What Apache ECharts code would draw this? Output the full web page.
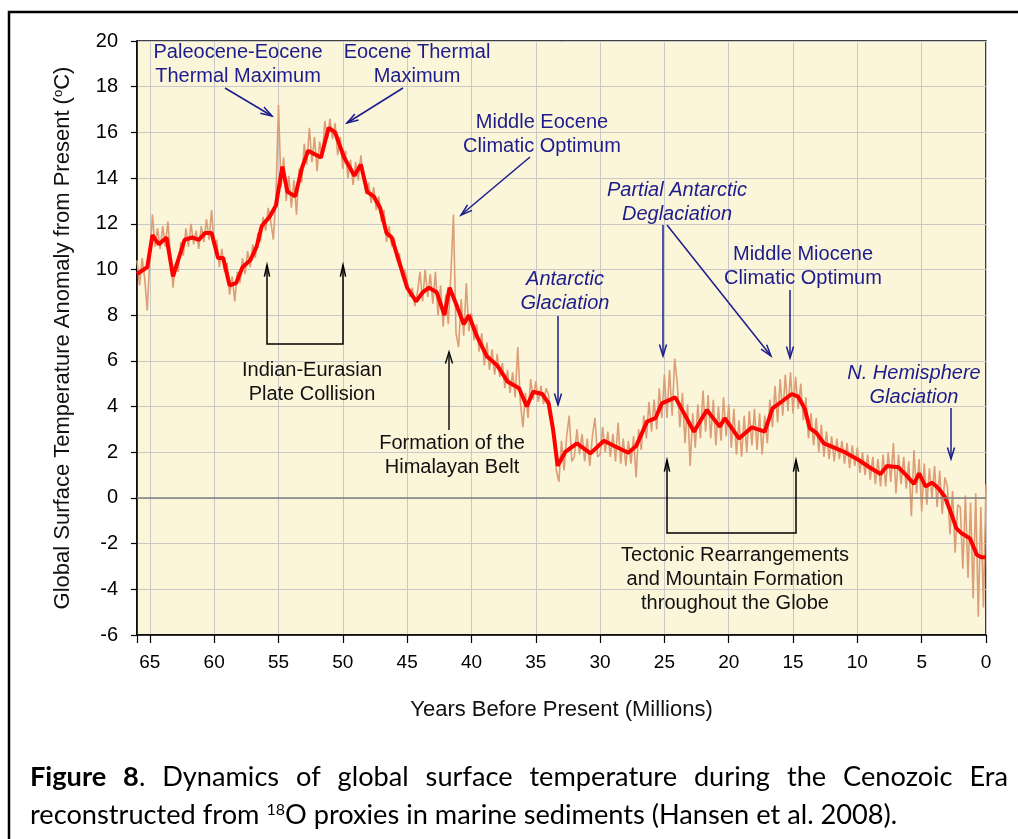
<!DOCTYPE html>
<html lang="en">
<head>
    <meta charset="UTF-8">
    <title>Cenozoic temperature</title>
    <script src="https://cdn.jsdelivr.net/npm/echarts@6.0.0/dist/echarts.min.js"></script>
</head>
<body style="margin:0;background:#fff;">
    <div id="main" style="position:absolute;left:0;top:0;width:1018px;height:839px"></div>
    <script>
        // smoothed curve (red)
        var redAge = [66, 65.2, 64.8, 64.3, 63.7, 63.2, 62.3, 61.7, 61.2, 60.7, 60.2, 59.7, 59.3, 58.8, 58.3, 57.8, 57.2, 56.7, 56.3, 55.7,
            55.2, 54.7, 54.3, 53.7, 53.2, 52.7, 51.7, 51.1, 50.6, 49.9, 49.1, 48.6, 48.1, 47.6, 47.1, 46.6, 46.2, 45.6, 45.0, 44.3,
            43.8, 43.3, 42.7, 42.1, 41.7, 41.2, 40.6, 40.2, 39.6, 38.8, 38.0, 37.2, 36.3, 35.7, 35.2, 34.5, 34.0, 33.65, 33.3, 32.7,
            31.8, 30.75, 29.7, 28.9, 27.8, 27.2, 26.35, 25.7, 25.2, 24.15, 22.7, 21.7, 20.7, 20.3, 19.2, 18.2, 17.2, 16.6, 15.9, 15.1,
            14.6, 14.1, 13.7, 13.2, 12.6, 11.85, 10.9, 9.9, 9.0, 8.2, 7.7, 6.8, 6.2, 5.6, 5.2, 4.7, 4.2, 3.7, 3.2, 2.8,
            2.3, 1.9, 1.25, 0.7, 0.33, 0];
        var redTemp = [9.8, 10.1, 11.5, 11.1, 11.4, 9.7, 11.3, 11.4, 11.3, 11.6, 11.6, 10.5, 10.5, 9.3, 9.4, 10.1, 10.4, 11.0, 11.9, 12.3,
            12.8, 14.5, 13.4, 13.2, 14.4, 15.2, 14.9, 16.2, 16.0, 14.9, 14.1, 14.6, 13.4, 13.2, 12.7, 11.6, 11.4, 10.3, 9.2, 8.6,
            9.0, 9.2, 9.0, 8.0, 9.2, 8.5, 7.6, 8.0, 7.1, 6.2, 5.8, 5.1, 4.8, 4.0, 4.65, 4.55, 4.14, 2.97, 1.41, 2.02,
            2.39, 1.95, 2.5, 2.27, 1.98, 2.27, 3.34, 3.49, 4.14, 4.4, 2.9, 3.85, 3.12, 3.49, 2.6, 3.09, 2.9, 3.92, 4.21, 4.55,
            4.43, 3.92, 3.05, 2.86, 2.39, 2.21, 1.98, 1.66, 1.32, 1.05, 1.4, 1.34, 1.0, 0.61, 1.08, 0.5, 0.67, 0.42, 0.05, -0.53,
            -1.33, -1.55, -1.77, -2.5, -2.6, -2.6];

        // high resolution record (brown), one value every 0.2 Myr from 66 to 0
        var noiseStep = 0.2;
        var noiseTemp = [
            10.4, 9.3, 10.5, 9.6, 8.2,
            10.6, 12.4, 11.0, 11.8, 10.9,
            11.9, 11.0, 12.1, 10.6, 9.2,
            10.3, 9.9, 11.2, 10.6, 11.8,
            11.0, 12.0, 11.1, 11.7, 10.9,
            11.9, 11.2, 12.2, 11.3, 12.6,
            11.0, 11.3, 10.1, 10.9, 9.9,
            10.3, 8.9, 9.7, 8.6, 9.9,
            9.4, 10.5, 9.8, 10.8, 10.1,
            11.1, 10.5, 11.6, 11.2, 12.3,
            11.7, 12.7, 12.1, 11.3, 13.2,
            17.2, 13.6, 14.9, 13.0, 14.1,
            12.7, 13.9, 12.4, 14.4, 13.8,
            15.5, 14.6, 16.2, 14.7, 15.8,
            14.3, 15.6, 14.9, 16.5, 15.7,
            16.6, 15.7, 16.4, 15.0, 15.8,
            14.4, 15.2, 14.0, 14.8, 13.7,
            14.7, 13.9, 15.0, 14.1, 13.3,
            13.8, 12.9, 13.6, 12.6, 13.2,
            12.1, 12.6, 11.2, 11.9, 11.0,
            11.4, 10.4, 10.7, 9.7, 10.0,
            9.5, 8.8, 9.2, 8.4, 9.0,
            9.9, 8.6, 10.0, 8.8, 9.8,
            8.5, 9.9, 8.0, 9.3, 7.5,
            8.9, 7.6, 9.8, 12.4, 7.2,
            6.6, 8.7, 7.1, 9.4, 7.3,
            8.1, 6.9, 7.6, 6.4, 7.2,
            5.8, 6.8, 5.6, 6.5, 5.4,
            6.3, 5.3, 5.9, 4.8, 5.6,
            4.6, 5.5, 4.4, 6.6, 4.2,
            3.1, 4.6, 3.5, 5.2, 4.3,
            5.1, 4.2, 4.9, 4.1, 4.8,
            4.5, 3.3, 3.1, 1.2, 0.7,
            2.5, 1.2, 2.7, 3.6, 1.6,
            1.8, 3.0, 1.9, 2.8, 1.6,
            2.6, 1.4, 2.7, 3.5, 1.8,
            1.9, 3.1, 2.0, 2.9, 1.8,
            2.8, 1.6, 3.3, 1.5, 2.6,
            1.4, 2.5, 1.5, 2.7, 0.9,
            3.0, 2.1, 3.6, 2.6, 4.2,
            2.9, 4.3, 3.0, 4.8, 3.5,
            5.4, 3.5, 5.6, 3.6, 6.1,
            5.0, 3.1, 4.6, 2.4, 4.1,
            1.4, 3.7, 2.2, 4.1, 2.6,
            4.7, 2.9, 4.5, 2.6, 4.3,
            2.3, 4.0, 2.5, 4.4, 2.7,
            4.1, 2.2, 3.9, 1.9, 3.4,
            1.8, 3.6, 2.0, 3.8, 2.3,
            3.9, 2.1, 3.7, 1.9, 3.6,
            2.4, 4.3, 3.1, 4.9, 3.3,
            5.2, 3.6, 5.4, 3.8, 5.5,
            3.7, 5.3, 3.9, 5.0, 3.4,
            4.4, 2.6, 3.7, 2.3, 3.5,
            2.0, 3.2, 1.8, 2.9, 1.7,
            2.7, 1.6, 2.6, 1.7, 2.5,
            1.5, 2.4, 1.3, 2.3, 1.4,
            2.2, 1.1, 2.0, 1.0, 1.9,
            0.8, 1.8, 0.6, 1.7, 0.5,
            1.9, 0.5, 2.0, 0.7, 2.4,
            0.2, 1.9, 0.6, 1.8, 0.4,
            1.6, -0.8, 2.1, 0.2, 1.7,
            -0.6, 1.5, -0.3, 1.3, 0.0,
            1.4, -0.4, 1.2, -0.7, 0.9,
            0.5, -1.6, 0.3, -2.4, -0.3,
            -0.4, -3.1, 0.1, -3.5, -0.2,
            -4.4, 0.2, -5.2, -0.4, -4.8,
            0.6
        ];

        var navy = '#1c1c8c';
        var font = '"Liberation Sans", Arial, sans-serif';

        var redData = redAge.map(function (a, i) { return [a, redTemp[i]]; });
        var noiseData = noiseTemp.map(function (t, i) { return [+(66 - i * noiseStep).toFixed(1), t]; });

        // --- annotation helpers (pixel space)
        function arrowHead(x1, y1, x2, y2, color, len, ang) {
            var a = Math.atan2(y2 - y1, x2 - x1);
            return {
                type: 'polyline', silent: true, z: 100,
                shape: { points: [[x2 - len * Math.cos(a - ang), y2 - len * Math.sin(a - ang)], [x2, y2], [x2 - len * Math.cos(a + ang), y2 - len * Math.sin(a + ang)]] },
                style: { stroke: color, lineWidth: 1.5, fill: null }
            };
        }
        function arrow(x1, y1, x2, y2, color) {
            return [{
                type: 'line', silent: true, z: 100,
                shape: { x1: x1, y1: y1, x2: x2, y2: y2 },
                style: { stroke: color, lineWidth: 1.5 }
            }, arrowHead(x1, y1, x2, y2, color, 12, 0.3)];
        }
        function bracket(xa, xb, yTip, yBase) {
            return [{
                type: 'polyline', silent: true, z: 100,
                shape: { points: [[xa, yTip], [xa, yBase], [xb, yBase], [xb, yTip]] },
                style: { stroke: '#000', lineWidth: 1.5, fill: null }
            }, arrowHead(xa, yBase, xa, yTip, '#000', 12, 0.22), arrowHead(xb, yBase, xb, yTip, '#000', 12, 0.22)];
        }
        function label(text, x, y, color, italic) {
            return {
                type: 'text', silent: true, z: 100,
                style: {
                    text: text, x: x, y: y, fill: color,
                    font: (italic ? 'italic ' : '') + '20px ' + font,
                    lineHeight: 24,
                    align: 'center', verticalAlign: 'middle',
                    textAlign: 'center', textVerticalAlign: 'middle'
                }
            };
        }

        var g = [];
        g.push(label('Paleocene-Eocene\nThermal Maximum', 238, 64, navy));
        g = g.concat(arrow(225, 88, 272, 116, navy));
        g.push(label('Eocene Thermal\nMaximum', 417, 64, navy));
        g = g.concat(arrow(403, 88, 347, 123, navy));
        g.push(label('Middle Eocene\nClimatic Optimum', 542, 134, navy));
        g = g.concat(arrow(530, 157, 461, 215, navy));
        g.push(label('Partial Antarctic\nDeglaciation', 677, 202, navy, true));
        g = g.concat(arrow(663, 225, 663, 356, navy));
        g = g.concat(arrow(667, 225, 771, 356, navy));
        g.push(label('Middle Miocene\nClimatic Optimum', 803, 266, navy));
        g = g.concat(arrow(790, 290, 790, 358, navy));
        g.push(label('Antarctic\nGlaciation', 565, 291, navy, true));
        g = g.concat(arrow(558, 316, 558, 405, navy));
        g.push(label('N. Hemisphere\nGlaciation', 914, 385, navy, true));
        g = g.concat(arrow(951, 408, 951, 459, navy));

        g.push(label('Indian-Eurasian\nPlate Collision', 312, 382, '#111'));
        g = g.concat(bracket(267, 343, 265, 344));
        g.push(label('Formation of the\nHimalayan Belt', 452, 455, '#111'));
        g = g.concat(arrow(449, 430, 449, 352, '#111'));
        g.push(label('Tectonic Rearrangements\nand Mountain Formation\nthroughout the Globe', 735, 579, '#111'));
        g = g.concat(bracket(667, 796, 460, 533));

        // outer frame
        g.push({
            type: 'rect', silent: true, z: 0,
            shape: { x: 9, y: 12, width: 1030, height: 850 },
            style: { stroke: '#000', lineWidth: 2.5, fill: null }
        });

        // caption, first line justified
        var capFamily = 'Lato, "Open Sans", sans-serif';
        var ctx = document.createElement('canvas').getContext('2d');
        function tw(f, s) { ctx.font = f; return ctx.measureText(s).width; }
        var line2a = 'reconstructed from ', line2b = 'O proxies in marine sediments (Hansen et al. 2008).';
        var w22 = tw('22px ' + capFamily, line2a + line2b) + tw('13px ' + capFamily, '18');
        var capSize = Math.round(22 * 867 / w22 * 10) / 10;
        var supSize = Math.round(capSize * 0.6);
        var normF = capSize + 'px ' + capFamily, boldF = 'bold ' + capSize + 'px ' + capFamily;

        var words = [
            { b: 'Figure', n: '' }, { b: '8', n: '.' }, { n: 'Dynamics' }, { n: 'of' }, { n: 'global' }, { n: 'surface' },
            { n: 'temperature' }, { n: 'during' }, { n: 'the' }, { n: 'Cenozoic' }, { n: 'Era' }
        ];
        var widths = words.map(function (w) { return (w.b ? tw(boldF, w.b) : 0) + tw(normF, w.n); });
        var total = widths.reduce(function (s, v) { return s + v; }, 0);
        var gap = (1008 - 30 - total) / (words.length - 1);
        var cx = 30;
        words.forEach(function (w, i) {
            g.push({
                type: 'text', silent: true,
                style: {
                    text: (w.b ? '{b|' + w.b + '}' : '') + (w.n ? '{n|' + w.n + '}' : ''),
                    x: cx, y: 777, align: 'left', verticalAlign: 'middle', textAlign: 'left', textVerticalAlign: 'middle',
                    rich: {
                        b: { fontFamily: capFamily, fontSize: capSize, fontWeight: 'bold', fill: '#000', color: '#000' },
                        n: { fontFamily: capFamily, fontSize: capSize, fill: '#000', color: '#000' }
                    }
                }
            });
            cx += widths[i] + gap;
        });
        g.push({
            type: 'text', silent: true,
            style: {
                text: '{n|' + line2a + '}{s|18}{n|' + line2b + '}',
                x: 30, y: 815, align: 'left', verticalAlign: 'middle', textAlign: 'left', textVerticalAlign: 'middle',
                rich: {
                    n: { fontFamily: capFamily, fontSize: capSize, fill: '#000', color: '#000' },
                    s: { fontFamily: capFamily, fontSize: supSize, verticalAlign: 'top', fill: '#000', color: '#000' }
                }
            }
        });

        var myChart = echarts.init(document.getElementById('main'));
        myChart.setOption({
            animation: false,
            backgroundColor: '#fff',
            grid: {
                left: 137, right: 32, top: 41, bottom: 204,
                show: true, backgroundColor: '#fbf5d9', borderColor: '#000', borderWidth: 1.5,
                outerBoundsMode: 'none'
            },
            xAxis: {
                type: 'value', min: 0, max: 66, interval: 5, inverse: true,
                name: 'Years Before Present (Millions)', nameLocation: 'middle', nameGap: 64,
                nameTextStyle: { fontFamily: font, fontSize: 22, color: '#111' },
                axisLine: { onZero: false, lineStyle: { color: '#000', width: 1.5 } },
                axisTick: { length: 8, lineStyle: { color: '#000', width: 1.2 } },
                axisLabel: {
                    margin: 18, fontFamily: font, fontSize: 19, color: '#000',
                    formatter: function (v) { return v % 5 === 0 ? String(v) : ''; }
                },
                splitLine: { lineStyle: { color: '#c8c8c8', width: 1 } }
            },
            yAxis: {
                type: 'value', min: -6, max: 20, interval: 2,
                name: '{a|Global Surface Temperature Anomaly from Present (}{b|o}{a|C)}',
                nameLocation: 'middle', nameGap: 63,
                nameTextStyle: {
                    rich: {
                        a: { fontFamily: font, fontSize: 22, color: '#111' },
                        b: { fontFamily: font, fontSize: 13, color: '#111', verticalAlign: 'top' }
                    }
                },
                axisLine: { onZero: false, lineStyle: { color: '#000', width: 1.5 } },
                axisTick: { length: 6, lineStyle: { color: '#000', width: 1.2 } },
                axisLabel: { margin: 19, fontFamily: font, fontSize: 20, color: '#000' },
                splitLine: { lineStyle: { color: '#c8c8c8', width: 1 } }
            },
            series: [{
                type: 'line', data: noiseData, symbol: 'none', silent: true,
                lineStyle: { color: '#dc9e76', width: 1.6 },
                markLine: {
                    silent: true, symbol: 'none', label: { show: false },
                    lineStyle: { color: '#7f7f7f', type: 'solid', width: 1.5 },
                    data: [{ yAxis: 0 }]
                }
            }, {
                type: 'line', data: redData, symbol: 'none', silent: true,
                lineStyle: { color: '#ff0000', width: 4 }
            }],
            graphic: g
        });
    </script>
</body>
</html>
